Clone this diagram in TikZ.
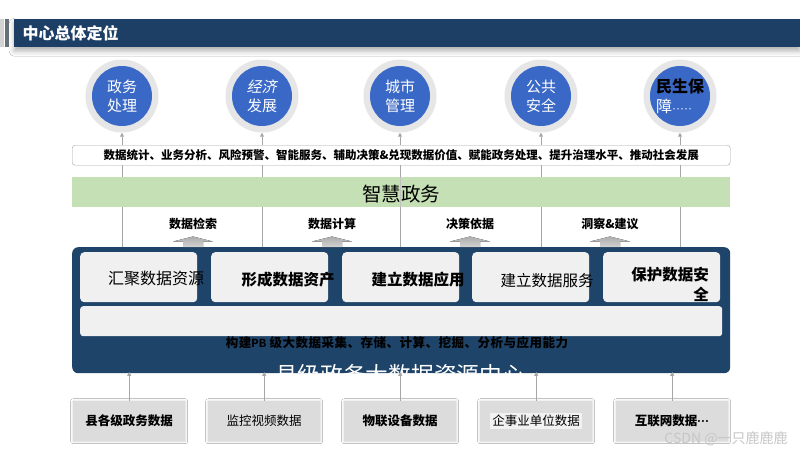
\documentclass[tikz,border=0pt]{standalone}
\usepackage{fontspec}
\setmainfont{Noto Sans CJK SC}
\newfontfamily\pbfont{Liberation Mono}
\newfontfamily\dotfont{Liberation Sans}
\usetikzlibrary{shadows.blur,arrows.meta}
\definecolor{titleblue}{HTML}{1D3F66}
\definecolor{darkbox}{HTML}{1F4469}
\definecolor{circblue}{HTML}{3A68C6}
\definecolor{ringgray}{HTML}{E6E6E6}
\definecolor{lgreen}{HTML}{C5E0B4}
\definecolor{innergray}{HTML}{F0F0F0}
\definecolor{botgray}{HTML}{DCDCDC}
\definecolor{linegray}{HTML}{A6A6A6}
\newcommand\fsz[2]{\fontsize{#1}{#2}\selectfont}
\begin{document}
\begin{tikzpicture}[x=1pt,y=-1pt,
  ring/.style={circle,fill=ringgray,minimum size=73pt,inner sep=0},
  core/.style={circle,fill=circblue,minimum size=60pt,inner sep=0},
  ctext/.style={text=white,align=center,font=\fsz{15}{19}},
  vline/.style={draw=linegray,line width=0.8pt},
  arr/.style={draw=linegray,line width=0.8pt,-{Triangle[width=4pt,length=4pt]}},
  lbl/.style={font=\bfseries\fsz{12}{14}},
  blockarrow/.style={top color=gray!65,bottom color=gray!35,draw=none},
  ibox/.style={fill=innergray,rounded corners=4pt,minimum width=117pt,minimum height=50pt,anchor=north west,inner sep=0},
  itext/.style={font=\fsz{15.5}{20}},
  bbox/.style={fill=botgray,minimum width=112pt,minimum height=40pt,anchor=north west,inner sep=0,
     blur shadow={shadow xshift=0pt,shadow yshift=0pt,shadow blur radius=2.5pt,shadow opacity=18},
     font=\fsz{12.5}{15}}
]
\useasboundingbox (0,0) rectangle (800,450);
\fill[white] (0,0) rectangle (800,450);

% title bar
\fill[gray!35] (0,19) rectangle (4,47);
\fill[gray!75!titleblue] (5,19) rectangle (9,47);
\node[fill=titleblue,minimum width=786pt,minimum height=28pt,anchor=north west,inner sep=0,
  blur shadow={shadow xshift=0pt,shadow yshift=-4pt,shadow blur radius=5pt,shadow opacity=30}] (tbar) at (14,19) {};
\node[anchor=west,text=white,font=\bfseries\fsz{16}{19}] (title) at (19,33) {中心总体定位};

% circles
\node[ring] (c1) at (122,96) {};
\node[ring] (c2) at (262,96) {};
\node[ring] (c3) at (400,96) {};
\node[ring] (c4) at (541,96) {};
\node[ring] (c5) at (680,96) {};
\node[core] (k1) at (c1) {};
\node[core] (k2) at (c2) {};
\node[core] (k3) at (c3) {};
\node[core] (k4) at (c4) {};
\node[core] (k5) at (c5) {};
\node[ctext] (t1) at (c1) {政务\\处理};
\node[ctext,xslant=0.22,transform shape] (t2a) at (263,87) {经济};
\node[ctext] (t2b) at (262,106) {发展};
\node[ctext] (t3) at (c3) {城市\\管理};
\node[ctext] (t4) at (c4) {公共\\安全};
\node[align=left,font=\bfseries\fsz{16}{20},anchor=west,inner sep=0] (t5) at (656,96) {\textcolor{black}{民生保}\\\textcolor{white}{\mdseries 障{\dotfont\fsz{12}{14}\textperiodcentered\textperiodcentered\textperiodcentered\textperiodcentered\textperiodcentered}}};

% dark box, green bar, white box (positions)
\coordinate (wtop) at (0,145);
\node[fill=darkbox,rounded corners=6pt,minimum width=658pt,minimum height=126pt,anchor=north west,inner sep=0] (dark) at (72,247) {};

% vertical lines
\foreach \c in {c1,c2,c3,c4,c5}{
  \draw[vline] (\c.south |- dark.north) -- (\c.south |- wtop);
}
\node[fill=lgreen,minimum width=658pt,minimum height=30pt,anchor=north west,inner sep=0] (green) at (72,177) {};
\node[font=\fsz{19.5}{22}] (gtext) at (401,194) {智慧政务};
\draw[vline,draw=linegray!70] (c3.south |- green.north) -- (c3.south |- green.south);

\node[draw=gray!70,rounded corners=3pt,fill=white,minimum width=658pt,minimum height=20pt,anchor=north west,inner sep=0,
  font=\bfseries\fsz{11.5}{14}] (wbox) at (72,145) {数据统计、业务分析、风险预警、智能服务、辅助决策\&兑现数据价值、赋能政务处理、提升治理水平、推动社会发展};
\foreach \c in {c1,c2,c3,c4,c5}{
  \draw[arr] (\c.south |- wbox.north) -- (\c.south);
}

% labels with block arrows
\foreach \x/\t in {193/数据检索,332/数据计算,470/决策依据,610/洞察\&建议}{
  \node[lbl] (l\x) at (\x,224) {\t};
  \fill[blockarrow] (\x-20,241.5) -- (\x,236.5) -- (\x+20,241.5) -- (\x+10,241.5) -- (\x+10,247) -- (\x-10,247) -- (\x-10,241.5) -- cycle;
}

% inner boxes
\node[ibox] (i1) at (80,252) {};
\node[ibox] (i2) at (211,252) {};
\node[ibox] (i3) at (342,252) {};
\node[ibox] (i4) at (472,252) {};
\node[ibox] (i5) at (603,252) {};
\node[itext,font=\fsz{16}{20}] (it1) at (156,278) {汇聚数据资源};
\node[itext,font=\bfseries\fsz{15.5}{20}] (it2) at (288,280) {形成数据资产};
\node[itext,font=\bfseries\fsz{15.5}{20}] (it3) at (418,280) {建立数据应用};
\node[itext] (it4) at (547,281) {建立数据服务};
\node[itext,font=\bfseries\fsz{15.5}{20},align=right,anchor=north east,inner sep=0] (it5) at (709,267) {保护数据安\\全};

\node[fill=innergray,rounded corners=3pt,minimum width=642pt,minimum height=30pt,anchor=north west,inner sep=0] (wide) at (80,306) {};
\node[font=\bfseries\fsz{12.5}{14}\addfontfeature{LetterSpace=4}] (pb) at (397,343) {构建{\pbfont PB} 级大数据采集、存储、计算、挖掘、分析与应用能力};

\begin{scope}
  \clip (72,247) rectangle (730,373);
  \node[text=white,font=\fsz{22.7}{26}] (center) at (400,375) {县级政务大数据资源中心};
\end{scope}

% bottom boxes
\node[bbox,font=\bfseries\fsz{12.5}{15}] (b1) at (73,401) {县各级政务数据};
\node[bbox] (b2) at (208,401) {监控视频数据};
\node[bbox,font=\bfseries\fsz{12.5}{15}] (b3) at (344,401) {物联设备数据};
\node[bbox] (b4) at (480,401) {};
\node[fill=gray!10,inner sep=2pt,font=\fsz{12.5}{15}] (b4t) at (b4) {企事业单位数据};
\node[bbox,font=\bfseries\fsz{12.5}{15}] (b5) at (616,401) {互联网数据{\dotfont\fsz{12}{14}\textperiodcentered\textperiodcentered\textperiodcentered}};
\foreach \b in {b1,b2,b3,b4,b5}{
  \draw[arr,shorten >=-1.5pt] (\b.north) -- (\b.north |- dark.south);
}

\node[text=gray!45,font=\fsz{14}{16}] (wm) at (726,439) {CSDN @一只鹿鹿鹿};
\end{tikzpicture}
\end{document}
